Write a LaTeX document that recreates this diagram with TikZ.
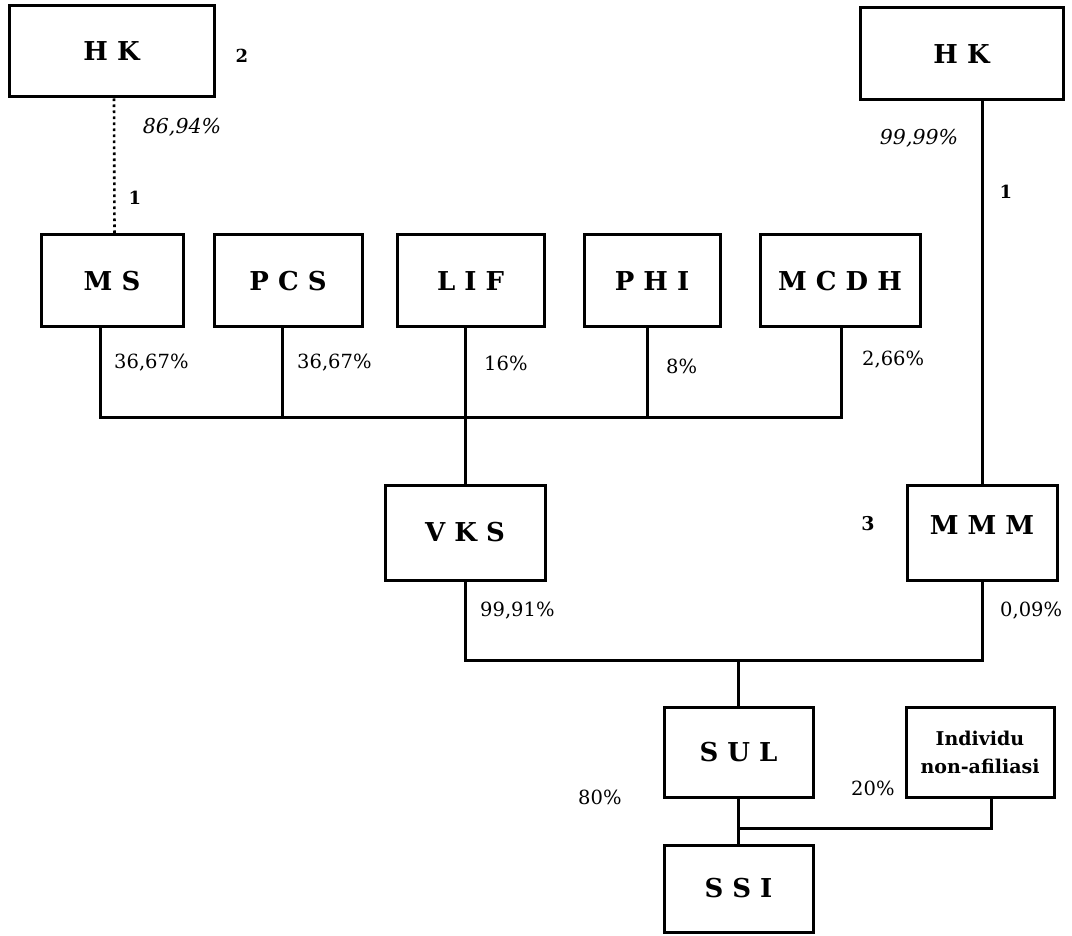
\documentclass[tikz,border=0pt]{standalone}
\usepackage{fontspec}
\setmainfont{DejaVu Serif}
\begin{document}
\begin{tikzpicture}[x=1pt,y=-1pt,
  box/.style={draw,line width=3pt,rectangle,inner sep=0pt,align=center,
    font=\fontsize{26}{30}\selectfont\bfseries},
  con/.style={line width=3pt},
  pct/.style={anchor=west,inner sep=0pt,font=\fontsize{19.5}{23}\selectfont},
  ipct/.style={anchor=center,inner sep=0pt,font=\fontsize{20.5}{24}\selectfont\itshape},
  num/.style={anchor=center,inner sep=0pt,font=\fontsize{18}{21}\selectfont\bfseries}]
\useasboundingbox (0,0) rectangle (1072,936);
% boxes
\node[box,minimum width=205pt,minimum height=91pt] (hkL) at (111.5,51.5) {H K};
\node[box,minimum width=203pt,minimum height=92pt] (hkR) at (961.5,54) {\raisebox{-14pt}{H K}};
\node[box,minimum width=142pt,minimum height=92pt] (ms) at (112,281) {M S};
\node[box,minimum width=148pt,minimum height=92pt] (pcs) at (288,281) {P C S};
\node[box,minimum width=147pt,minimum height=92pt] (lif) at (470.5,281) {L I F};
\node[box,minimum width=136pt,minimum height=92pt] (phi) at (652,281) {P H I};
\node[box,minimum width=160pt,minimum height=92pt] (mcdh) at (840,281) {M C D H};
\node[box,minimum width=160pt,minimum height=95pt] (vks) at (465,532.5) {V K S};
\node[box,minimum width=150pt,minimum height=95pt] (mmm) at (982,532.5) {\raisebox{15pt}{M M M}};
\node[box,minimum width=149pt,minimum height=90pt] (sul) at (738.5,752) {S U L};
\node[box,minimum width=148pt,minimum height=90pt,font=\fontsize{19}{28}\selectfont\bfseries] (ind) at (980,752) {Individu\\non-afiliasi};
\node[box,minimum width=149pt,minimum height=87pt] (ssi) at (738.5,888.5) {S S I};
% labels
\node[num] (n2) at (242,56) {2};
\node[ipct] (p1) at (182,127) {86,94\%};
\node[num] (n1a) at (135,198) {1};
\node[ipct] (p2) at (919,138) {99,99\%};
\node[num] (n1b) at (1006,192) {1};
\node[num,font=\fontsize{19}{22}\selectfont\bfseries] (n3) at (868,524) {3};
\node[pct] (pms) at (114,363) {36,67\%};
\node[pct] (ppcs) at (297,363) {36,67\%};
\node[pct] (plif) at (484,363) {16\%};
\node[pct] (pphi) at (666,366) {8\%};
\node[pct] (pmcdh) at (862,360) {2,66\%};
\node[pct] (pvks) at (480,611) {99,91\%};
\node[pct] (pmmm) at (1000,611) {0,09\%};
\node[pct] (psul) at (578,797) {80\%};
\node[pct] (pind) at (851,788) {20\%};
% connectors
\draw[line width=2.6pt,dash pattern=on 2.6pt off 3.4pt] ([xshift=2.5pt]hkL.south) -- ([xshift=2.5pt]ms.north);
\coordinate (b1) at (465,417);
\coordinate (msS) at ([xshift=-12pt]ms.south);
\coordinate (pcsS) at ([xshift=-6pt]pcs.south);
\coordinate (phiS) at ([xshift=-5pt]phi.south);
\coordinate (mcdhS) at ([xshift=1pt]mcdh.south);
\draw[con] (msS) -- (msS |- b1) -- (mcdhS |- b1) -- (mcdhS);
\draw[con] (pcsS) -- (pcsS |- b1);
\draw[con] (phiS) -- (phiS |- b1);
\draw[con] (vks.north |- lif.south) -- (vks.north);
\draw[con] (mmm.north) -- (mmm.north |- hkR.south);
\coordinate (b2) at (740,660);
\draw[con] (vks.south) -- (vks.south |- b2) -- (mmm.south |- b2) -- (mmm.south);
\draw[con] (sul.north) -- (sul.north |- b2);
\coordinate (b3) at (740,828);
\coordinate (indS) at ([xshift=11pt]ind.south);
\draw[con] (sul.south) -- (ssi.north);
\draw[con] (indS) -- (indS |- b3) -- (sul.south |- b3);
\end{tikzpicture}
\end{document}
